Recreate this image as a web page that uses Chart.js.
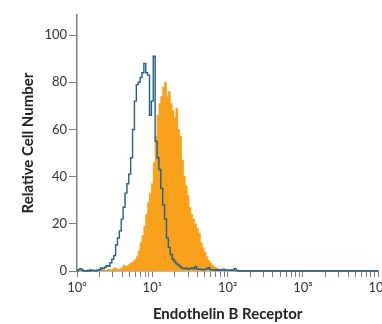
<!DOCTYPE html>
<html>
<head>
<meta charset="utf-8">
<script src="https://cdn.jsdelivr.net/npm/chart.js@4/dist/chart.umd.min.js"></script>
<style>
  body { margin: 0; background: #fff; overflow: hidden; }
  #wrap { position: relative; width: 391px; height: 324px; }
</style>
</head>
<body>
<div id="wrap"><canvas id="myChart"></canvas></div>
<script>
// fluorescence channel, in decades (log10 of intensity)
var logChannel = [0.000, 0.025, 0.050, 0.075, 0.100, 0.125, 0.150, 0.175, 0.200, 0.225, 0.250, 0.275,
    0.300, 0.325, 0.350, 0.375, 0.400, 0.425, 0.450, 0.475, 0.500, 0.525, 0.550, 0.575,
    0.600, 0.625, 0.650, 0.675, 0.700, 0.725, 0.750, 0.775, 0.800, 0.825, 0.850, 0.875,
    0.900, 0.925, 0.950, 0.975, 1.000, 1.025, 1.050, 1.075, 1.100, 1.125, 1.150, 1.175,
    1.200, 1.225, 1.250, 1.275, 1.300, 1.325, 1.350, 1.375, 1.400, 1.425, 1.450, 1.475,
    1.500, 1.525, 1.550, 1.575, 1.600, 1.625, 1.650, 1.675, 1.700, 1.725, 1.750, 1.775,
    1.800, 1.825, 1.850, 1.875, 1.900, 1.925, 1.950, 1.975, 2.000, 2.025, 2.050, 2.075,
    2.100, 2.125, 2.150, 2.175, 2.200, 2.500, 3.000, 3.500, 4.000];

// isotype control (blue outline)
var controlCells = [0, 0.6, 1.0, 0.3, 0, 0, 0.2, 0, 0.3, 0.2, 0, 0.3,
    0.5, 1.3, 1.0, 1.6, 2.2, 2.0, 3.5, 5.0, 6.5, 11, 14, 17,
    22, 27, 33, 37, 41, 48, 60, 72, 79, 80, 82, 84,
    88, 84, 83, 66, 72, 91, 55, 48, 43, 35, 28, 22,
    14, 10, 7, 5, 4, 3, 2.5, 1.8, 1.2, 1.0, 1.2, 0.8,
    1.0, 1.3, 1.0, 1.8, 0.9, 0.7, 0.8, 0.5, 0.6, 1.0, 1.4, 0.6,
    0.5, 0.4, 0.5, 0.3, 0.5, 0.4, 0.8, 0.3, 0.4, 0.3, 0.4, 0.3,
    1.0, 0.2, 0, 0, 0, 0, 0, 0, 0];

// Endothelin B Receptor stained cells (orange fill)
var stainedCells = [0, 0, 0.3, 0.5, 0.2, 0, 0.4, 0.8, 0.3, 0, 0.2, 0.4,
    0.5, 0.8, 0.3, 0.2, 0.3, 0.6, 0.4, 0.8, 1.4, 1.0, 0.6, 0.8,
    1.5, 2.5, 1.8, 2.2, 3.0, 3.4, 4.0, 4.8, 6.0, 8.5, 12, 15,
    19, 24, 29, 33, 37, 46, 57, 66, 71, 74, 78, 80,
    74, 76, 71, 68, 65, 69, 60, 57, 47, 40, 36, 32,
    27, 24, 22, 20, 18, 16, 12, 10, 8, 6, 4.5, 3.4,
    2.5, 1.8, 1.3, 1.0, 0.6, 0.4, 0.3, 0.2, 0, 0, 0, 0,
    0, 0, 0, 0, 0, 0, 0, 0, 0];

var decadeLabels = ["10\u2070", "10\u00b9", "10\u00b2", "10\u00b3", "10\u2074"];

var narrow = "Lato, 'Open Sans', sans-serif";
var axisGray = "#7d7d7d";

function points(ys) {
    return logChannel.map(function (x, i) { return { x: x, y: ys[i] }; });
}

new Chart("myChart", {
    type: "line",
    data: {
        datasets: [{
            data: points(controlCells),
            borderColor: "#1f5e8e",
            borderWidth: 1.4,
            stepped: "middle",
            pointRadius: 0,
            fill: false,
            clip: 6,
            order: 0
        }, {
            data: points(stainedCells),
            borderColor: "#f9a11b",
            backgroundColor: "#f9a11b",
            borderWidth: 0.8,
            stepped: "middle",
            pointRadius: 0,
            fill: "origin",
            clip: 6,
            order: 1
        }]
    },
    options: {
        responsive: true,
        maintainAspectRatio: false,
        animation: false,
        layout: { padding: { top: 15, left: 0, right: 0, bottom: 0 } },
        plugins: {
            legend: { display: false },
            tooltip: { enabled: false }
        },
        scales: {
            x: {
                type: "linear",
                min: 0,
                max: 4,
                afterBuildTicks: function (scale) {
                    var t = [];
                    for (var d = 0; d < 4; d++) {
                        for (var k = 1; k < 10; k++) t.push({ value: d + Math.log10(k) });
                    }
                    t.push({ value: 4 });
                    scale.ticks = t;
                },
                afterFit: function (scale) { scale.height = 53; },
                border: { color: axisGray, width: 1.5 },
                grid: { drawOnChartArea: false, drawTicks: true, tickLength: 6, color: axisGray },
                ticks: {
                    autoSkip: false,
                    maxRotation: 0,
                    padding: 3,
                    color: "#333",
                    font: { family: narrow, size: 13 },
                    callback: function (v) {
                        return Number.isInteger(v) ? decadeLabels[v] : "";
                    }
                },
                title: {
                    display: true,
                    text: "Endothelin B Receptor",
                    color: "#222",
                    font: { family: narrow, size: 15, weight: "bold" },
                    padding: { top: 0, bottom: 1 }
                }
            },
            y: {
                min: 0,
                max: 108.5,
                afterBuildTicks: function (scale) {
                    scale.ticks = scale.ticks.filter(function (t) { return t.value <= 100; });
                },
                afterFit: function (scale) { scale.width = 77; },
                border: { color: axisGray, width: 1.5 },
                grid: { drawOnChartArea: false, drawTicks: true, tickLength: 8, color: axisGray },
                ticks: {
                    stepSize: 20,
                    padding: 2,
                    color: "#333",
                    font: { family: narrow, size: 13 }
                },
                title: {
                    display: true,
                    text: "Relative Cell Number",
                    color: "#222",
                    font: { family: narrow, size: 15, weight: "bold" },
                    padding: { top: 19, bottom: 0 }
                }
            }
        }
    }
});
</script>
</body>
</html>
